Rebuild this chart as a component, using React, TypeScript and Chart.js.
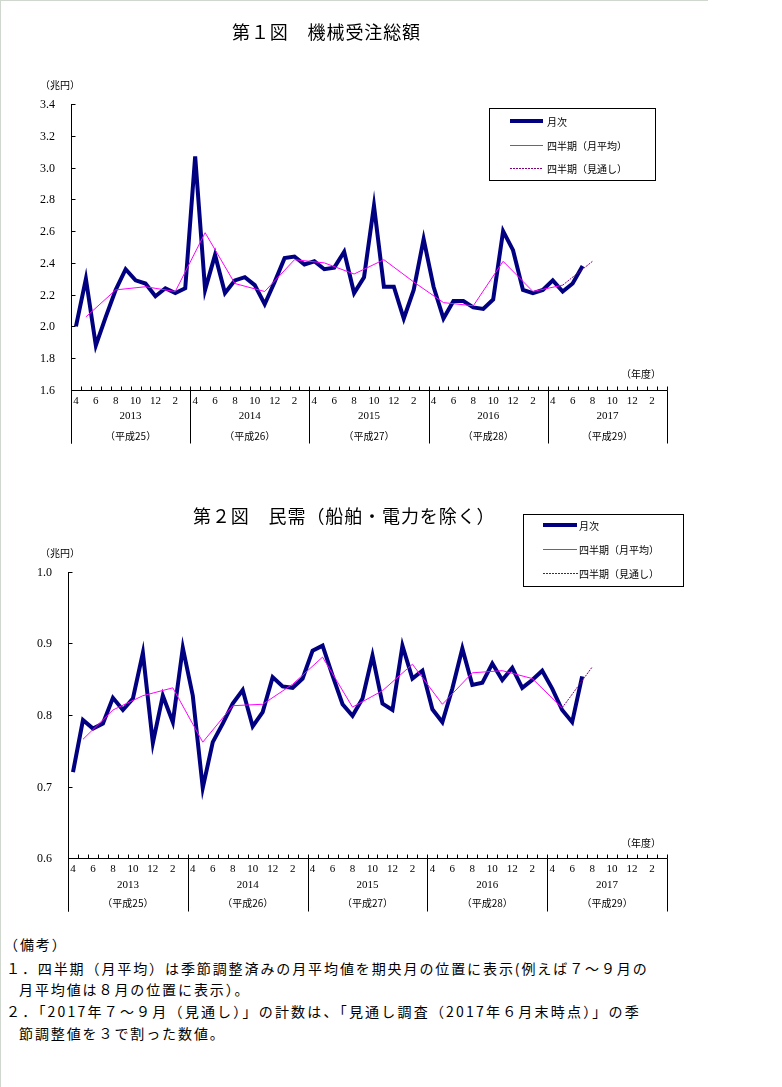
import React, { useEffect, useRef } from 'react';
import { Chart, registerables } from 'chart.js';

Chart.register(...registerables);

// ---------------- data ----------------
const FISCAL_YEARS = ['2013', '2014', '2015', '2016', '2017'];
const HEISEI = ['（平成25）', '（平成26）', '（平成27）', '（平成28）', '（平成29）'];
const MONTHS = [4, 5, 6, 7, 8, 9, 10, 11, 12, 1, 2, 3];
const MONTH_LABELS = ['4', '', '6', '', '8', '', '10', '', '12', '', '2', ''];

// 第1図 機械受注総額（兆円） monthly, Apr 2013 – Jul 2017
const TOTAL_MONTHLY = [
  2.00, 2.30, 1.88, 2.06, 2.23, 2.36, 2.29, 2.27, 2.19, 2.24, 2.21, 2.24,
  3.07, 2.23, 2.45, 2.21, 2.29, 2.31, 2.26, 2.14, 2.28, 2.43, 2.44, 2.39,
  2.41, 2.36, 2.37, 2.47, 2.21, 2.31, 2.76, 2.25, 2.25, 2.05, 2.23, 2.55,
  2.25, 2.05, 2.16, 2.16, 2.12, 2.11, 2.17, 2.60, 2.48, 2.23, 2.21, 2.23,
  2.29, 2.22, 2.27, 2.38,
];
// quarterly monthly average, plotted at the middle month (May, Aug, Nov, Feb)
const TOTAL_QUARTERLY = [
  2.06, 2.23, 2.25, 2.22,
  2.59, 2.27, 2.22, 2.42,
  2.40, 2.33, 2.42, 2.28,
  2.15, 2.13, 2.41, 2.22,
  2.26,
];
const TOTAL_FORECAST = 2.41; // Jul–Sep 2017 outlook

// 第2図 民需（船舶・電力を除く）
const PRIVATE_MONTHLY = [
  0.720, 0.793, 0.781, 0.788, 0.824, 0.807, 0.823, 0.887, 0.761, 0.827, 0.790, 0.894,
  0.827, 0.698, 0.762, 0.788, 0.816, 0.835, 0.784, 0.804, 0.853, 0.840, 0.838, 0.851,
  0.890, 0.897, 0.855, 0.815, 0.799, 0.823, 0.883, 0.816, 0.807, 0.897, 0.851, 0.862,
  0.808, 0.790, 0.837, 0.893, 0.842, 0.845, 0.872, 0.849, 0.866, 0.838, 0.849, 0.862,
  0.837, 0.807, 0.790, 0.854,
];
const PRIVATE_QUARTERLY = [
  0.766, 0.807, 0.827, 0.838,
  0.762, 0.813, 0.815, 0.843,
  0.881, 0.811, 0.834, 0.871,
  0.815, 0.859, 0.862, 0.851,
  0.810,
];
const PRIVATE_FORECAST = 0.867;

const Y1_TICKS = [1.6, 1.8, 2.0, 2.2, 2.4, 2.6, 2.8, 3.0, 3.2, 3.4];
const Y2_TICKS = [0.6, 0.7, 0.8, 0.9, 1.0];

const LEGEND_ITEMS = ['月次', '四半期（月平均）', '四半期（見通し）'];

// ---------------- helpers ----------------
const CATEGORIES = FISCAL_YEARS.flatMap((y) => MONTHS.map((m) => `${y}/${m}`));
const N = CATEGORIES.length;

function padMonthly(vals: number[]): (number | null)[] {
  return CATEGORIES.map((_, i) => (i < vals.length ? vals[i] : null));
}
function quarterlySeries(vals: number[]): (number | null)[] {
  const arr: (number | null)[] = CATEGORIES.map(() => null);
  vals.forEach((v, q) => {
    arr[1 + 3 * q] = v;
  });
  return arr;
}
function forecastSeries(quarterly: number[], fc: number): (number | null)[] {
  const arr: (number | null)[] = CATEGORIES.map(() => null);
  const lastIdx = 1 + 3 * (quarterly.length - 1);
  arr[lastIdx] = quarterly[quarterly.length - 1];
  arr[lastIdx + 3] = fc;
  return arr;
}

const JP = "'Noto Sans CJK JP', 'Noto Sans', sans-serif";
const SERIF = "'Liberation Serif', 'DejaVu Serif', serif";
const NAVY = '#000080';
const MAGENTA = '#FF00FF';
const PURPLE = '#800080';

type Cfg = {
  yTicks: number[];
  yLabelGap: number;
  monthDy: number;
  yearDy: number;
  eraDy: number;
  sepLen: number;
  unitX: number;
  unitY: number;
  nendoRight: number;
  nendoY: number;
  legend: { x: number; y: number; w: number; h: number; rows: number[]; lx0: number; lx1: number; tx: number };
};

function makePlugin(cfg: Cfg) {
  return {
    id: 'customAxes',
    beforeDatasetsDraw(chart: any) {
      const ctx: CanvasRenderingContext2D = chart.ctx;
      const xs = chart.scales.x;
      const ys = chart.scales.y;
      const { left, right, bottom } = chart.chartArea;
      const top = ys.getPixelForValue(cfg.yTicks[cfg.yTicks.length - 1]);
      const L = Math.round(left) + 0.5;
      const B = Math.round(bottom) + 0.5;
      ctx.save();
      ctx.strokeStyle = '#000';
      ctx.fillStyle = '#000';
      ctx.lineWidth = 1;
      ctx.setLineDash([]);
      // y axis
      ctx.beginPath();
      ctx.moveTo(L, Math.round(top));
      ctx.lineTo(L, B + cfg.sepLen);
      ctx.stroke();
      // x axis
      ctx.beginPath();
      ctx.moveTo(L, B);
      ctx.lineTo(Math.round(right) + 0.5, B);
      ctx.stroke();
      // y ticks and labels
      ctx.font = `12px ${SERIF}`;
      ctx.textAlign = 'right';
      ctx.textBaseline = 'middle';
      cfg.yTicks.forEach((v) => {
        const py = Math.round(ys.getPixelForValue(v)) + 0.5;
        ctx.beginPath();
        ctx.moveTo(L, py);
        ctx.lineTo(L + 4, py);
        ctx.stroke();
        ctx.fillText(v.toFixed(1), left - cfg.yLabelGap, py);
      });
      // month ticks
      const mw = xs.getPixelForValue(1) - xs.getPixelForValue(0);
      const x0 = xs.getPixelForValue(0) - mw / 2;
      for (let k = 0; k <= N; k++) {
        const px = Math.round(x0 + k * mw) + 0.5;
        ctx.beginPath();
        ctx.moveTo(px, B - 4);
        ctx.lineTo(px, B);
        ctx.stroke();
      }
      // year separators
      for (let y = 0; y <= FISCAL_YEARS.length; y++) {
        const px = Math.round(x0 + y * 12 * mw) + 0.5;
        ctx.beginPath();
        ctx.moveTo(px, B);
        ctx.lineTo(px, B + cfg.sepLen);
        ctx.stroke();
      }
      // month labels
      ctx.textAlign = 'center';
      ctx.font = `11px ${SERIF}`;
      CATEGORIES.forEach((_, i) => {
        const lab = MONTH_LABELS[i % 12];
        if (lab) ctx.fillText(lab, xs.getPixelForValue(i), B + cfg.monthDy);
      });
      // years and era
      FISCAL_YEARS.forEach((yr, y) => {
        const cx = x0 + (y * 12 + 6) * mw;
        ctx.font = `11px ${SERIF}`;
        ctx.fillText(yr, cx, B + cfg.yearDy);
        ctx.font = `10px ${JP}`;
        ctx.fillText(HEISEI[y], cx, B + cfg.eraDy);
      });
      // unit labels
      ctx.font = `10px ${JP}`;
      ctx.fillText('（兆円）', cfg.unitX, cfg.unitY);
      ctx.textAlign = 'right';
      ctx.fillText('（年度）', cfg.nendoRight, cfg.nendoY);
      // legend
      const lg = cfg.legend;
      ctx.strokeRect(lg.x + 0.5, lg.y + 0.5, lg.w, lg.h);
      ctx.textAlign = 'left';
      ctx.font = `10px ${JP}`;
      // 月次
      ctx.fillStyle = NAVY;
      ctx.fillRect(lg.lx0, lg.rows[0] - 2, lg.lx1 - lg.lx0, 4);
      // 四半期（月平均）
      ctx.fillStyle = MAGENTA;
      ctx.fillRect(lg.lx0, lg.rows[1], lg.lx1 - lg.lx0, 1);
      // 四半期（見通し）
      ctx.fillStyle = PURPLE;
      for (let x = lg.lx0; x < lg.lx1; x += 3) {
        ctx.fillRect(x, lg.rows[2], 2, 1);
      }
      ctx.fillStyle = '#000';
      LEGEND_ITEMS.forEach((t, i) => {
        ctx.fillText(t, lg.tx, lg.rows[i] + 1);
      });
      ctx.restore();
    },
  };
}

function makeChart(
  canvas: HTMLCanvasElement,
  monthly: number[],
  quarterly: number[],
  fc: number,
  yMin: number,
  yMax: number,
  padding: { left: number; right: number; top: number; bottom: number },
  cfg: Cfg
) {
  return new Chart(canvas, {
    type: 'line',
    data: {
      labels: CATEGORIES,
      datasets: [
        {
          label: LEGEND_ITEMS[0],
          data: padMonthly(monthly),
          borderColor: NAVY,
          borderWidth: 4,
          pointRadius: 0,
          tension: 0,
          order: 3,
          borderJoinStyle: 'miter',
        },
        {
          label: LEGEND_ITEMS[1],
          data: quarterlySeries(quarterly),
          borderColor: MAGENTA,
          borderWidth: 1,
          pointRadius: 0,
          tension: 0,
          spanGaps: true,
          order: 2,
        },
        {
          label: LEGEND_ITEMS[2],
          data: forecastSeries(quarterly, fc),
          borderColor: PURPLE,
          borderWidth: 1,
          borderDash: [2, 1],
          pointRadius: 0,
          tension: 0,
          spanGaps: true,
          order: 1,
        },
      ],
    },
    options: {
      responsive: false,
      animation: false,
      devicePixelRatio: 1,
      layout: { padding },
      plugins: { legend: { display: false }, tooltip: { enabled: false }, title: { display: false } },
      events: [],
      scales: {
        x: { type: 'category', offset: true, display: false, grid: { display: false } },
        y: { type: 'linear', min: yMin, max: yMax, display: false, grid: { display: false } },
      },
    },
    plugins: [makePlugin(cfg)],
  } as any);
}

export default function App() {
  const c1 = useRef<HTMLCanvasElement>(null);
  const c2 = useRef<HTMLCanvasElement>(null);

  useEffect(() => {
    const ch1 = makeChart(
      c1.current!,
      TOTAL_MONTHLY,
      TOTAL_QUARTERLY,
      TOTAL_FORECAST,
      1.6,
      3.4,
      { left: 71, right: 115, top: 104, bottom: 80 },
      {
        yTicks: Y1_TICKS,
        yLabelGap: 16,
        monthDy: 11,
        yearDy: 26,
        eraDy: 46,
        sepLen: 53,
        unitX: 60,
        unitY: 85,
        nendoRight: 661,
        nendoY: 374,
        legend: { x: 489, y: 108, w: 166, h: 72, rows: [121, 145, 168], lx0: 510, lx1: 543, tx: 547 },
      }
    );
    const ch2 = makeChart(
      c2.current!,
      PRIVATE_MONTHLY,
      PRIVATE_QUARTERLY,
      PRIVATE_FORECAST,
      0.6,
      1.0,
      { left: 68, right: 115, top: 92, bottom: 72 },
      {
        yTicks: Y2_TICKS,
        yLabelGap: 16,
        monthDy: 11,
        yearDy: 27,
        eraDy: 45,
        sepLen: 53,
        unitX: 60,
        unitY: 73,
        nendoRight: 661,
        nendoY: 363,
        legend: { x: 523, y: 34, w: 160, h: 72, rows: [45, 69, 93], lx0: 543, lx1: 577, tx: 579 },
      }
    );
    return () => {
      ch1.destroy();
      ch2.destroy();
    };
  }, []);

  const noteStyle: React.CSSProperties = {
    position: 'absolute',
    fontFamily: JP,
    fontSize: 14,
    lineHeight: '16px',
    letterSpacing: '1.9px',
    whiteSpace: 'nowrap',
    color: '#000',
  };

  return (
    <div
      style={{
        position: 'absolute',
        left: 0,
        top: 0,
        width: 782,
        height: 1087,
        background: '#fff',
        overflow: 'hidden',
      }}
    >
      <div
        style={{
          position: 'absolute',
          left: 0,
          top: 0,
          width: 707,
          height: 1087,
          borderTop: '1px solid #cfd7cf',
          borderLeft: '1px solid #cfd7cf',
        }}
      />
      <canvas ref={c1} width={782} height={470} style={{ position: 'absolute', left: 0, top: 0 }} />
      <canvas ref={c2} width={782} height={450} style={{ position: 'absolute', left: 0, top: 480 }} />
      <div
        style={{
          position: 'absolute',
          left: 232,
          top: 22,
          fontFamily: JP,
          fontSize: 18,
          lineHeight: '18px',
          letterSpacing: '0.9px',
          whiteSpace: 'nowrap',
        }}
      >
        第１図　機械受注総額
      </div>
      <div
        style={{
          position: 'absolute',
          left: 193,
          top: 506,
          fontFamily: JP,
          fontSize: 18,
          lineHeight: '18px',
          letterSpacing: '0.9px',
          whiteSpace: 'nowrap',
        }}
      >
        第２図　民需（船舶・電力を除く）
      </div>
      <div style={{ ...noteStyle, left: 4, top: 936 }}>（備考）</div>
      <div style={{ ...noteStyle, left: 6, top: 960 }}>
        １．四半期（月平均）は季節調整済みの月平均値を期央月の位置に表示(例えば７～９月の
      </div>
      <div style={{ ...noteStyle, left: 19, top: 981 }}>月平均値は８月の位置に表示）。</div>
      <div style={{ ...noteStyle, left: 6, top: 1003, letterSpacing: '2.2px' }}>
        ２．「2017年７～９月（見通し）」の計数は、「見通し調査（2017年６月末時点）」の季
      </div>
      <div style={{ ...noteStyle, left: 19, top: 1025 }}>節調整値を３で割った数値。</div>
    </div>
  );
}
